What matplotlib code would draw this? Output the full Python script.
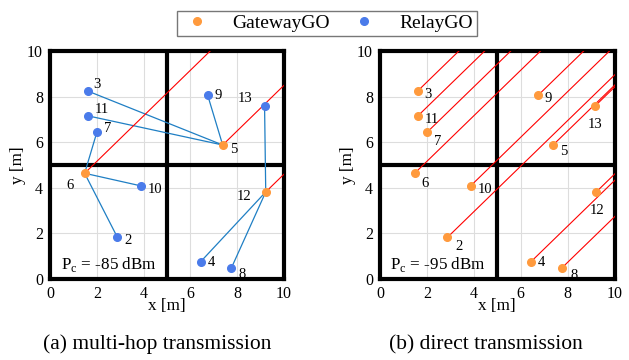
import matplotlib.pyplot as plt
from matplotlib.lines import Line2D

plt.rcParams['font.family'] = ['Liberation Serif', 'DejaVu Serif']
plt.rcParams['mathtext.fontset'] = 'custom'
plt.rcParams['mathtext.rm'] = 'Liberation Serif'

# node positions [m]
node_ids = [2, 3, 4, 5, 6, 7, 8, 9, 10, 11, 12, 13]
node_x = [2.88, 1.61, 6.44, 7.38, 1.48, 2.00, 7.75, 6.74, 3.87, 1.62, 9.22, 9.17]
node_y = [1.83, 8.25, 0.76, 5.88, 4.64, 6.43, 0.48, 8.06, 4.09, 7.16, 3.82, 7.59]

# multi-hop: gateways and relay links
gateways_a = [5, 6, 12]
links_a = [(3, 5), (11, 5), (9, 5), (7, 6), (10, 6), (2, 6), (4, 12), (8, 12), (13, 12)]

# label offsets (points) per panel
offs_a = {2: (5, -5), 3: (4, 2), 4: (5, -3), 5: (5, -6), 6: (-13, -11), 7: (5, 0),
          8: (5, -7), 9: (5, -3), 10: (5, -5), 11: (5, 2), 12: (-21, -6), 13: (-19, 3)}
offs_b = {2: (6, -9), 3: (5, -5), 4: (5, -3), 5: (5, -7), 6: (5, -10), 7: (5, -9),
          8: (6, -8), 9: (5, -5), 10: (5, -5), 11: (5, -5), 12: (-5, -16), 13: (-5, -16)}

orange = '#ff9a3d'
blue = '#4a7bea'
pos = dict(zip(node_ids, zip(node_x, node_y)))

fig = plt.figure(figsize=(6.29, 3.6), dpi=100)
ax_a = fig.add_axes([0.0795, 0.225, 0.372, 0.633])
ax_b = fig.add_axes([0.604, 0.225, 0.373, 0.633])


def setup(ax, pc_text):
    ax.set_xlim(0, 10)
    ax.set_ylim(0, 10)
    ax.set_xticks([0, 2, 4, 6, 8, 10])
    ax.set_yticks([0, 2, 4, 6, 8, 10])
    ax.grid(True, color='#dddddd', linewidth=0.8)
    ax.set_axisbelow(True)
    for s in ax.spines.values():
        s.set_linewidth(3)
    ax.axvline(5, color='black', linewidth=3, zorder=2)
    ax.axhline(5, color='black', linewidth=3, zorder=2)
    ax.tick_params(length=0, labelsize=11.5, pad=5)
    ax.set_xlabel('x [m]', fontsize=12.3, labelpad=-3)
    ax.set_ylabel('y [m]', fontsize=12.3, labelpad=1)
    ax.text(0.45, 0.45, pc_text, fontsize=12.3, zorder=5)


def red_line(ax, x, y):
    ax.plot([x, x + 20], [y, y + 20], color='red', linewidth=0.8, zorder=3, clip_on=True)


# (a) multi-hop
setup(ax_a, r'P$_\mathrm{c}$ = -85 dBm')
for a, b in links_a:
    ax_a.plot([pos[a][0], pos[b][0]], [pos[a][1], pos[b][1]], color='#1f7fc4', linewidth=0.9, zorder=3)
for g in gateways_a:
    red_line(ax_a, *pos[g])
for n in node_ids:
    c = orange if n in gateways_a else blue
    ax_a.plot(*pos[n], 'o', color=c, markersize=5.5, zorder=4)
    ax_a.annotate(str(n), pos[n], xytext=offs_a[n], textcoords='offset points', fontsize=10.5)

# (b) direct
setup(ax_b, r'P$_\mathrm{c}$ = -95 dBm')
for n in node_ids:
    red_line(ax_b, *pos[n])
for n in node_ids:
    ax_b.plot(*pos[n], 'o', color=orange, markersize=5.5, zorder=4)
    ax_b.annotate(str(n), pos[n], xytext=offs_b[n], textcoords='offset points', fontsize=10.5)

fig.text(0.25, 0.03, '(a) multi-hop transmission', ha='center', fontsize=15.5)
fig.text(0.772, 0.03, '(b) direct transmission', ha='center', fontsize=15.5)

handles = [Line2D([], [], marker='o', linestyle='', color=orange, markersize=5.5),
           Line2D([], [], marker='o', linestyle='', color=blue, markersize=5.5)]
fig.legend(handles, ['GatewayGO', 'RelayGO'], loc='center', bbox_to_anchor=(0.52, 0.935),
           ncol=2, fontsize=14, frameon=True, fancybox=False, edgecolor='#555555',
           columnspacing=1.0, handletextpad=1.0, borderpad=0.2, handlelength=1.6)

fig.savefig('out.png', dpi=100)
